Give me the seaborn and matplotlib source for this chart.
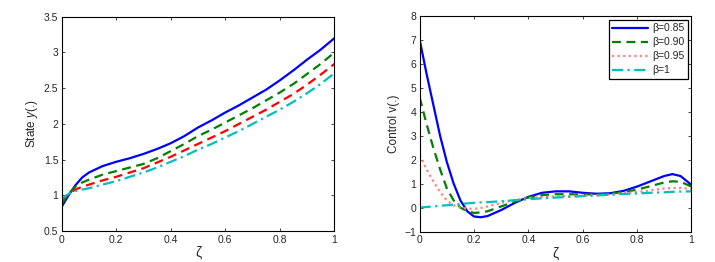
import numpy as np
import pandas as pd
import matplotlib
matplotlib.use("Agg")
import matplotlib.pyplot as plt
import seaborn as sns

# --- data ---
betas = ["β=0.85", "β=0.90", "β=0.95", "β=1"]

# left panel: state y(.)
x_state = [0.0, 0.025, 0.05, 0.075, 0.1, 0.15, 0.2, 0.25, 0.3, 0.35, 0.4, 0.45, 0.5,
           0.55, 0.6, 0.65, 0.7, 0.75, 0.8, 0.85, 0.9, 0.95, 1.0]
y_085 = [0.84, 1.0, 1.14, 1.25, 1.32, 1.41, 1.47, 1.52, 1.58, 1.65, 1.73, 1.83, 1.95,
         2.05, 2.16, 2.26, 2.37, 2.48, 2.61, 2.75, 2.90, 3.04, 3.20]
y_090 = [0.88, 1.02, 1.12, 1.18, 1.22, 1.29, 1.34, 1.39, 1.44, 1.52, 1.62, 1.72, 1.83,
         1.92, 2.02, 2.12, 2.22, 2.33, 2.44, 2.56, 2.70, 2.84, 3.00]
y_095 = [0.93, 1.02, 1.08, 1.12, 1.15, 1.21, 1.26, 1.32, 1.38, 1.46, 1.54, 1.63, 1.72,
         1.81, 1.90, 2.00, 2.10, 2.20, 2.31, 2.42, 2.55, 2.69, 2.84]
y_100 = [0.95, 1.02, 1.06, 1.08, 1.10, 1.15, 1.20, 1.26, 1.32, 1.39, 1.47, 1.55, 1.64,
         1.72, 1.81, 1.90, 2.00, 2.10, 2.20, 2.31, 2.43, 2.56, 2.71]

# right panel: control v(.)
x_ctrl = [0.0, 0.025, 0.05, 0.075, 0.1, 0.125, 0.15, 0.175, 0.2, 0.225, 0.25, 0.3, 0.35,
          0.4, 0.45, 0.5, 0.55, 0.6, 0.65, 0.7, 0.75, 0.8, 0.85, 0.9, 0.93, 0.96, 1.0]
v_085 = [7.0, 5.6, 4.3, 3.0, 1.9, 1.0, 0.3, -0.15, -0.37, -0.4, -0.35, -0.1, 0.2,
         0.45, 0.62, 0.68, 0.68, 0.62, 0.58, 0.6, 0.7, 0.88, 1.1, 1.32, 1.4, 1.32, 0.95]
v_090 = [4.6, 3.5, 2.5, 1.6, 0.8, 0.3, 0.0, -0.15, -0.22, -0.2, -0.15, 0.05, 0.25,
         0.42, 0.52, 0.56, 0.56, 0.55, 0.56, 0.58, 0.65, 0.75, 0.9, 1.05, 1.1, 1.08, 0.88]
v_095 = [2.2, 1.6, 1.1, 0.65, 0.3, 0.1, 0.0, -0.04, -0.05, -0.01, 0.05, 0.2, 0.32,
         0.4, 0.44, 0.47, 0.49, 0.5, 0.52, 0.55, 0.6, 0.65, 0.72, 0.8, 0.82, 0.82, 0.78]
v_100 = [0.0, 0.03, 0.05, 0.08, 0.1, 0.13, 0.15, 0.18, 0.2, 0.22, 0.23, 0.27, 0.31,
         0.35, 0.39, 0.42, 0.45, 0.48, 0.51, 0.54, 0.57, 0.59, 0.62, 0.64, 0.66, 0.67, 0.68]

sns.set_theme(style="ticks")
plt.rcParams['font.family'] = ['Liberation Sans', 'DejaVu Sans']
plt.rcParams['mathtext.fontset'] = 'custom'
plt.rcParams['mathtext.it'] = 'Liberation Sans:italic'

colors = ["#0000ff", "#008000", "#ff0000", "#00bfbf"]

fig = plt.figure(figsize=(7.15, 2.62), dpi=100)
ax1 = fig.add_axes([0.0863, 0.118, 0.3813, 0.818])
ax2 = fig.add_axes([0.587, 0.116, 0.380, 0.823])

# left panel
left_styles = ["-", (0, (4, 2.5)), (0, (4, 2.5)), (0, (5, 2, 1, 2))]
for ys, c, ls, lab in zip([y_085, y_090, y_095, y_100], colors, left_styles, betas):
    df = pd.DataFrame({"x": x_state, "y": ys})
    sns.lineplot(data=df, x="x", y="y", ax=ax1, color=c, linestyle=ls, lw=1.6, label=lab)
ax1.get_legend().remove()
ax1.set_xlim(0, 1)
ax1.set_ylim(0.5, 3.5)
ax1.set_yticks(np.arange(0.5, 3.51, 0.5))
ax1.set_yticklabels(["0.5", "1", "1.5", "2", "2.5", "3", "3.5"])
ax1.set_xticks([0, 0.2, 0.4, 0.6, 0.8, 1])
ax1.set_xticklabels(["0", "0.2", "0.4", "0.6", "0.8", "1"])
ax1.set_ylabel("State $\\it{y}$(.)", fontsize=8.5, labelpad=3)
ax1.set_xlabel("ζ", fontsize=10, labelpad=1)

# right panel
right_styles = ["-", (0, (4, 2.5)), (0, (1, 1.5)), (0, (5, 2, 1, 2))]
right_colors = ["#0000ff", "#008000", "#ff8080", "#00bfbf"]
for vs, c, ls, lab in zip([v_085, v_090, v_095, v_100], right_colors, right_styles, betas):
    df = pd.DataFrame({"x": x_ctrl, "v": vs})
    sns.lineplot(data=df, x="x", y="v", ax=ax2, color=c, linestyle=ls, lw=1.6, label=lab)
ax2.set_xlim(0, 1)
ax2.set_ylim(-1, 8)
ax2.set_yticks(range(-1, 9))
ax2.set_xticks([0, 0.2, 0.4, 0.6, 0.8, 1])
ax2.set_xticklabels(["0", "0.2", "0.4", "0.6", "0.8", "1"])
ax2.set_ylabel("Control v(.)", fontsize=8.5, labelpad=3)
ax2.set_xlabel("ζ", fontsize=10, labelpad=1)
leg = ax2.legend(loc="upper right", fontsize=7.5, frameon=True, fancybox=False,
                 edgecolor="black", handlelength=3.4, borderpad=0.35, labelspacing=0.38,
                 handletextpad=0.4, borderaxespad=0.35)
leg.get_frame().set_linewidth(0.9)
leg.get_frame().set_alpha(1)

for ax in (ax1, ax2):
    ax.tick_params(direction="in", top=True, right=True, labelsize=7.5, length=2.5,
                   width=0.6, pad=2.5)
    for s in ax.spines.values():
        s.set_linewidth(0.8)
        s.set_color("black")
    ax.grid(False)

fig.savefig("out.png", dpi=100)
